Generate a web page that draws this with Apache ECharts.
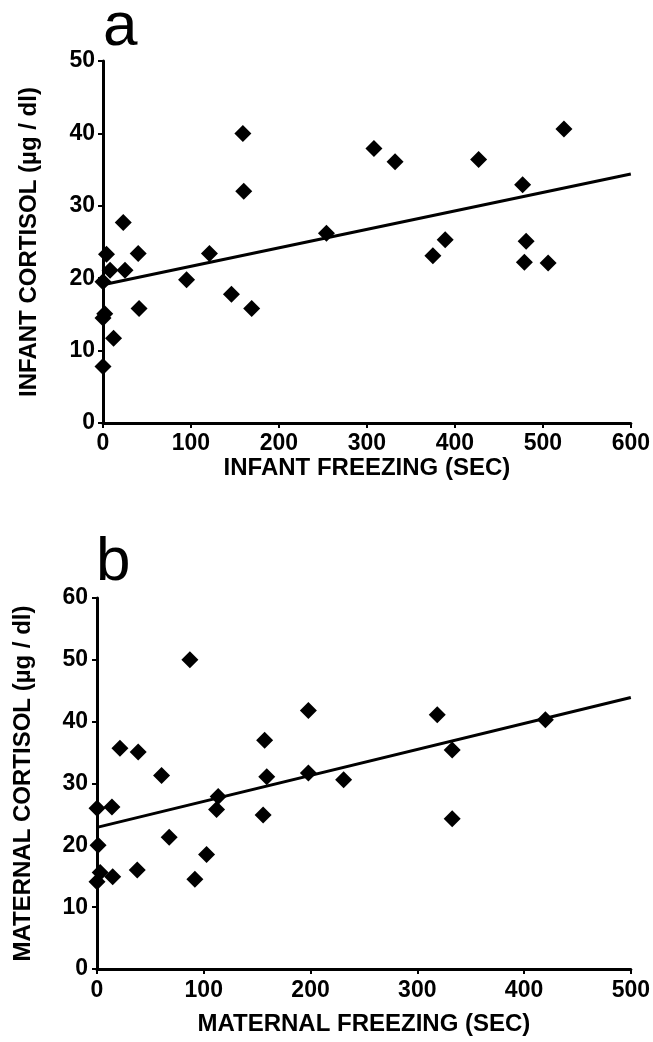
<!DOCTYPE html>
<html>
<head>
<meta charset="utf-8">
<title>Freezing vs cortisol</title>
<script src="https://cdn.jsdelivr.net/npm/echarts@6/dist/echarts.min.js"></script>
<style>
  html, body { margin: 0; padding: 0; background: #fff; }
  #chart { width: 653px; height: 1042px; }
</style>
</head>
<body>
<div id="chart"></div>
<script>
// panel a: infant freezing (sec) vs infant cortisol (ug/dl)
const infantFreezing = [159, 160, 23, 4, 40, 121, 8, 25, 0, 95, 146, 169, 41, 2, 0, 12, 0, 254,
  308, 332, 427, 524, 477, 389, 375, 481, 479, 506];
const infantCortisol = [40.0, 32.0, 27.7, 23.3, 23.4, 23.4, 21.1, 21.1, 19.5, 19.8, 17.8, 15.8, 15.8, 15.1, 14.5, 11.7, 7.8, 26.2,
  37.9, 36.1, 36.4, 40.6, 32.9, 25.3, 23.1, 25.1, 22.2, 22.1];
const infantFitX = [0, 600];
const infantFitY = [19.1, 34.4];

// panel b: maternal freezing (sec) vs maternal cortisol (ug/dl)
const maternalFreezing = [87, 198, 21.5, 38.6, 157, 60.5, 159, 198, 231, 113.5, 112, 0, 14, 155.6, 67.6, 1,
  102.6, 37.7, 91.7, 14.7, 3, 0, 318.7, 420, 332.7, 332.7];
const maternalCortisol = [50.0, 41.8, 35.7, 35.1, 37.0, 31.3, 31.1, 31.7, 30.6, 27.9, 25.8, 26.0, 26.2, 24.9, 21.3, 20.0,
  18.5, 16.0, 14.5, 14.9, 15.6, 14.1, 41.1, 40.3, 35.4, 24.3];
const maternalFitX = [0, 500];
const maternalFitY = [22.9, 43.9];

const xTicksA = { min: 0, max: 600, interval: 100 };
const yTicksA = { min: 0, max: 50, interval: 10 };
const xTicksB = { min: 0, max: 500, interval: 100 };
const yTicksB = { min: 0, max: 60, interval: 10 };

(function () {
  const FONT = '"Liberation Sans", Arial, Helvetica, sans-serif';

  function zip (xs, ys) { return xs.map((x, i) => [x, ys[i]]); }

  function txt (size) {
    return { color: '#000', fontSize: size, fontWeight: 'bold', fontFamily: FONT };
  }

  function axis (ticks, name, gap, idx, labelMargin, nameSize) {
    return {
      type: 'value',
      gridIndex: idx,
      min: ticks.min,
      max: ticks.max,
      interval: ticks.interval,
      name: name,
      nameLocation: 'middle',
      nameGap: gap,
      nameTextStyle: txt(nameSize),
      axisLine: { show: true, onZero: false, lineStyle: { color: '#000', width: 3 } },
      axisTick: { show: true, length: 5, lineStyle: { color: '#000', width: 2 } },
      axisLabel: Object.assign(txt(23), { margin: labelMargin }),
      splitLine: { show: false }
    };
  }

  function scatter (idx, xs, ys) {
    return {
      type: 'scatter',
      xAxisIndex: idx,
      yAxisIndex: idx,
      symbol: 'diamond',
      symbolSize: 17,
      clip: false,
      itemStyle: { color: '#000', opacity: 1 },
      z: 3,
      data: zip(xs, ys)
    };
  }

  function fit (idx, xs, ys) {
    return {
      type: 'line',
      xAxisIndex: idx,
      yAxisIndex: idx,
      showSymbol: false,
      symbol: 'none',
      lineStyle: { color: '#000', width: 3 },
      z: 2,
      data: zip(xs, ys)
    };
  }

  function letter (text, left, top) {
    return {
      text: text,
      left: left,
      top: top,
      padding: 0,
      textStyle: { color: '#000', fontSize: 62, fontWeight: 'normal', fontFamily: FONT }
    };
  }

  function boot () {
    const chart = echarts.init(document.getElementById('chart'), null, { renderer: 'canvas' });
    chart.setOption({
      backgroundColor: '#fff',
      animation: false,
      title: [letter('a', 103, -3), letter('b', 96, 532)],
      grid: [
        { left: 103, top: 61, width: 529, height: 362 },
        { left: 97, top: 598, width: 535, height: 371 }
      ],
      xAxis: [
        axis(xTicksA, 'INFANT FREEZING (SEC)', 30, 0, 9, 24),
        axis(xTicksB, 'MATERNAL FREEZING (SEC)', 43, 1, 10, 24)
      ],
      yAxis: [
        axis(yTicksA, 'INFANT CORTISOL (µg / dl)', 62, 0, 8, 24),
        axis(yTicksB, 'MATERNAL CORTISOL (µg / dl)', 62, 1, 9, 24)
      ],
      series: [
        fit(0, infantFitX, infantFitY),
        scatter(0, infantFreezing, infantCortisol),
        fit(1, maternalFitX, maternalFitY),
        scatter(1, maternalFreezing, maternalCortisol)
      ]
    });
    window.addEventListener('resize', () => chart.resize());
  }

  document.addEventListener('DOMContentLoaded', boot);
})();
</script>
</body>
</html>
